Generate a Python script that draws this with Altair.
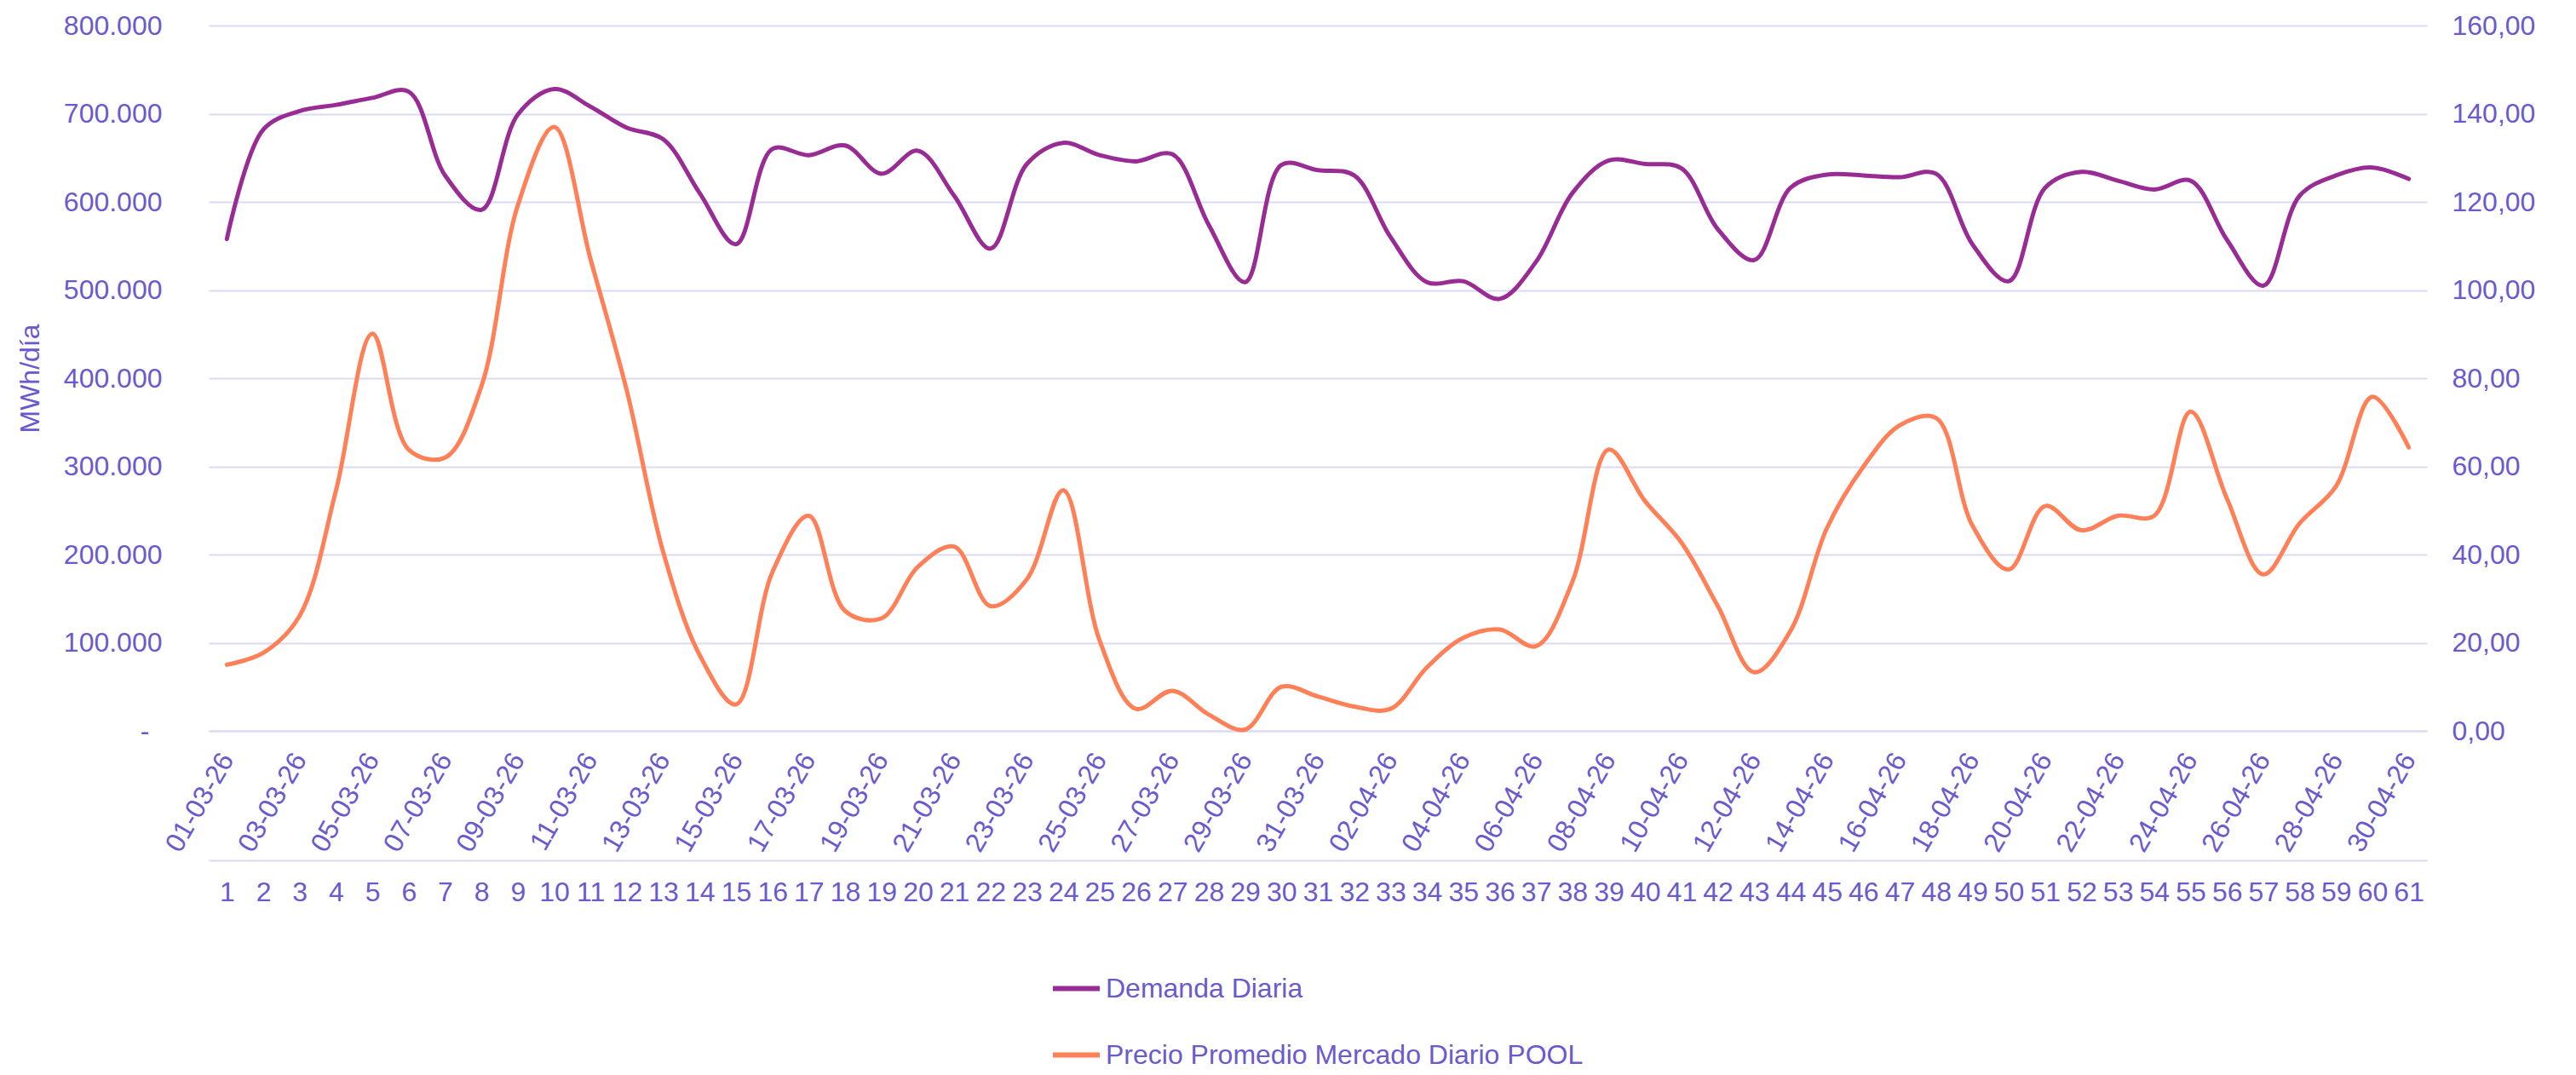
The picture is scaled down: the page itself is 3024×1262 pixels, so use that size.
import altair as alt
import pandas as pd

# ---------------- data ----------------
DIAS = list(range(1, 62))
FECHAS = [f"{d:02d}-03-26" for d in range(1, 32)] + [f"{d:02d}-04-26" for d in range(1, 31)]

DEMANDA = [
    558000, 682000, 703000, 710000, 718000, 725000, 630000, 591000, 699000, 728000,
    708000, 684000, 671000, 610000, 552000, 660000, 653000, 664000, 632000, 658000,
    607000, 547000, 643000, 667000, 653000, 646000, 654000, 574000, 509000, 642000,
    636000, 630000, 560000, 509000, 510000, 490000, 532000, 610000, 647000, 643000,
    638000, 569000, 534000, 616000, 631000, 630000, 628000, 632000, 552000, 510000,
    616000, 634000, 624000, 614000, 624000, 557000, 505000, 607000, 630000, 639000,
    626000,
]
PRECIO = [
    15.0, 17.7, 26.1, 54.5, 90.1, 63.8, 62.0, 78.2, 119.2, 137.0,
    107.0, 77.1, 40.5, 17.2, 6.0, 36.0, 48.8, 27.2, 25.5, 37.2,
    41.8, 28.3, 34.4, 54.6, 20.5, 5.0, 9.1, 3.7, 0.3, 10.0,
    7.8, 5.5, 5.0, 14.4, 21.1, 23.0, 19.2, 33.8, 63.8, 52.1,
    42.7, 28.3, 13.3, 22.7, 46.0, 59.9, 69.3, 71.0, 46.6, 36.6,
    51.0, 45.5, 48.8, 48.8, 72.4, 52.7, 35.5, 47.1, 55.5, 75.8,
    64.3,
]
SERIES = ["Demanda Diaria", "Precio Promedio Mercado Diario POOL"]
Y_LEFT_TICKS = [0, 100000, 200000, 300000, 400000, 500000, 600000, 700000, 800000]
Y_RIGHT_TICKS = [0, 20, 40, 60, 80, 100, 120, 140, 160]

# ---------------- styles ----------------
PURPLE = "#982C94"
ORANGE = "#FF7F57"
TXT = "#6A5ACD"
GRID = "#DCD9F4"
FONT = "Liberation Sans"
FS = 32

df = pd.DataFrame(
    {
        "dia": DIAS * 2,
        "serie": [SERIES[0]] * len(DIAS) + [SERIES[1]] * len(DIAS),
        "valor": DEMANDA + PRECIO,
    }
)

fechas_js = "[" + ",".join(f"'{f}'" for f in FECHAS) + "]"

x_scale = alt.Scale(type="point", padding=0.5)

color = alt.Color(
    "serie:N",
    scale=alt.Scale(domain=SERIES, range=[PURPLE, ORANGE]),
    legend=alt.Legend(
        orient="none",
        legendX=988,
        legendY=1100,
        direction="vertical",
        title=None,
        symbolType="stroke",
        symbolSize=3025,
        symbolStrokeWidth=6,
        labelFontSize=FS,
        labelColor=TXT,
        labelFont=FONT,
        rowPadding=31,
        labelOffset=4,
        labelLimit=0,
    ),
)

base = alt.Chart(df)

demanda = (
    base.transform_filter(alt.datum.serie == SERIES[0])
    .mark_line(interpolate="catmull-rom", strokeWidth=5, strokeCap="round")
    .encode(
        x=alt.X(
            "dia:O",
            scale=x_scale,
            axis=alt.Axis(
                title=None,
                values=[d for d in DIAS if d % 2 == 1],
                labelExpr=fechas_js + "[datum.value - 1]",
                labelAngle=300,
                labelAlign="right",
                labelBaseline="middle",
                labelPadding=28,
                labelFontSize=FS,
                labelColor=TXT,
                labelFont=FONT,
                labelOverlap=False,
                ticks=False,
                grid=False,
                domain=True,
                domainColor=GRID,
                domainWidth=2,
            ),
        ),
        y=alt.Y(
            "valor:Q",
            scale=alt.Scale(domain=[0, 800000], nice=False, zero=True),
            axis=alt.Axis(
                title="MWh/día",
                values=Y_LEFT_TICKS,
                labelExpr="datum.value == 0 ? '-' : replace(format(datum.value, ','), regexp(',', 'g'), '.')",
                labelFontSize=FS,
                labelColor=TXT,
                labelFont=FONT,
                labelPadding={"condition": {"test": "datum.value == 0", "value": 70}, "value": 55},
                ticks=False,
                domain=False,
                grid=True,
                gridColor=GRID,
                gridWidth=2,
                titleFontSize=FS,
                titleColor=TXT,
                titleFont=FONT,
                titleFontWeight="normal",
                titlePadding=22,
            ),
        ),
        color=color,
    )
)

precio = (
    base.transform_filter(alt.datum.serie == SERIES[1])
    .mark_line(interpolate="catmull-rom", strokeWidth=5, strokeCap="round")
    .encode(
        x=alt.X(
            "dia:O",
            scale=x_scale,
            axis=alt.Axis(
                title=None,
                orient="bottom",
                offset=152,
                labelAngle=0,
                labelAlign="center",
                labelBaseline="top",
                labelPadding=22,
                labelFontSize=FS,
                labelColor=TXT,
                labelFont=FONT,
                labelOverlap=False,
                ticks=False,
                grid=False,
                domain=True,
                domainColor=GRID,
                domainWidth=2,
            ),
        ),
        y=alt.Y(
            "valor:Q",
            scale=alt.Scale(domain=[0, 160], nice=False, zero=True),
            axis=alt.Axis(
                title=None,
                orient="right",
                values=Y_RIGHT_TICKS,
                labelExpr="replace(format(datum.value, '.2f'), '.', ',')",
                labelFontSize=FS,
                labelColor=TXT,
                labelFont=FONT,
                labelPadding=29,
                ticks=False,
                domain=False,
                grid=False,
            ),
        ),
        color=color,
    )
)

chart = (
    alt.layer(demanda, precio)
    .resolve_scale(y="independent")
    .resolve_axis(x="independent", y="independent")
    .properties(
        width=2604,
        height=828,
        autosize=alt.AutoSizeParams(type="none"),
        padding={"left": 237, "top": 22, "right": 167, "bottom": 396},
        background="white",
    )
    .configure_view(stroke=None)
)

chart.save("out.html", embed_options={"renderer": "svg", "actions": False})
